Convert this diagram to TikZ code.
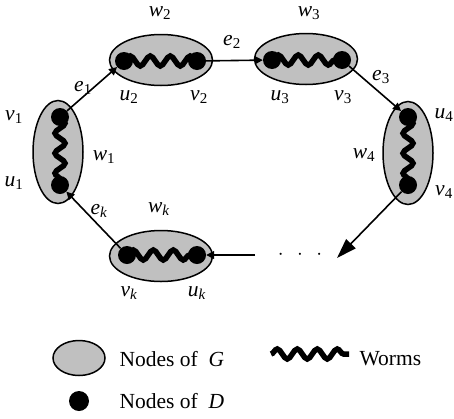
\documentclass[tikz,border=0pt]{standalone}
\usepackage{fontspec}
\setmainfont{Liberation Serif}
\usetikzlibrary{positioning}
\usetikzlibrary{shapes.geometric}
\usetikzlibrary{decorations.pathmorphing}
\usetikzlibrary{arrows.meta}

\newcommand{\lbl}[2]{\textit{#1}\textsubscript{#2}}

\begin{document}
\begin{tikzpicture}[
      x=1pt, y=-1pt, >={Triangle[length=8pt,width=8pt]},
      gnode/.style={ellipse, draw, line width=1.5pt, fill={rgb,255:red,192;green,192;blue,192}, inner sep=0pt},
      hnode/.style={gnode, minimum width=103pt, minimum height=51pt},
      vnode/.style={gnode, minimum width=50pt, minimum height=103pt},
      dnode/.style={circle, fill=black, minimum size=18pt, inner sep=0pt},
      worm/.style={line width=5.5pt, decorate, decoration={snake, segment length=20pt, amplitude=5pt}},
      edge/.style={line width=1.6pt},
      every node/.style={font=\fontsize{21.5}{24}\selectfont}]

      \useasboundingbox (0,0) rectangle (454,418);

      % nodes of G
      \node[vnode] (W1) at (58,152) {};
      \node[hnode] (W2) at (161,60) {};
      \node[hnode] (W3) at (306,59) {};
      \node[vnode] (W4) at (408,153) {};
      \node[hnode] (Wk) at (161,256) {};

      % nodes of D
      \node[dnode] (V1) at (60,117) {};
      \node[dnode] (U1) at (60,185) {};
      \node[dnode] (U2) at (124,61) {};
      \node[dnode] (V2) at (197,61) {};
      \node[dnode] (U3) at (272,60) {};
      \node[dnode] (V3) at (342,60) {};
      \node[dnode] (U4) at (408,117) {};
      \node[dnode] (V4) at (408,185) {};
      \node[dnode] (Vk) at (127,255) {};
      \node[dnode] (Uk) at (197,255) {};

      % worms
      \draw[worm] (V1.center) -- (U1.center);
      \draw[worm] (U2.center) -- (V2.center);
      \draw[worm] (U3.center) -- (V3.center);
      \draw[worm] (U4.center) -- (V4.center);
      \draw[worm] (Vk.center) -- (Uk.center);

      % edges
      \coordinate (Dend) at (337,258);
      \coordinate (Dstart) at (255,255);
      \draw[edge, ->] (V1) -- (U2);
      \draw[edge, ->] (V2) -- (U3);
      \draw[edge, ->] (V3) -- (U4);
      \draw[edge, -{Triangle[length=20pt,width=13pt]}] (V4) -- (Dend);
      \draw[edge, ->] (Dstart) -- (Uk);
      \draw[edge, ->] (Vk) -- (U1);
      \node (dots) at (300,255) {$\cdot\hspace{9pt}\cdot\hspace{9pt}\cdot$};

      % labels
      \node (l1) at (14,117) {\lbl{v}{1}};
      \node (l2) at (14,183) {\lbl{u}{1}};
      \node (l3) at (104,157) {\lbl{w}{1}};
      \node (l4) at (160,13) {\lbl{w}{2}};
      \node (l5) at (83,88) {\lbl{e}{1}};
      \node (l6) at (129,97) {\lbl{u}{2}};
      \node (l7) at (199,97) {\lbl{v}{2}};
      \node (l8) at (232,42) {\lbl{e}{2}};
      \node (l9) at (309,13) {\lbl{w}{3}};
      \node (l10) at (280,97) {\lbl{u}{3}};
      \node (l11) at (343,97) {\lbl{v}{3}};
      \node (l12) at (381,77) {\lbl{e}{3}};
      \node (l13) at (444,115) {\lbl{u}{4}};
      \node (l14) at (444,192) {\lbl{v}{4}};
      \node (l15) at (364,155) {\lbl{w}{4}};
      \node (l16) at (99,211) {\lbl{e}{\textit{k}}};
      \node (l17) at (159,209) {\lbl{w}{\textit{k}}};
      \node (l18) at (129,293) {\lbl{v}{\textit{k}}};
      \node (l19) at (197,293) {\lbl{u}{\textit{k}}};

      % legend
      \node[gnode, minimum width=52pt, minimum height=35pt] (legG) at (79,358) {};
      \node[anchor=west] (txtG) at (116,359) {Nodes of \ \textit{G}};
      \node[dnode, minimum size=20pt] (legD) at (79,401) {};
      \node[anchor=west] (txtD) at (116,401) {Nodes of \ \textit{D}};
      \coordinate (wormA) at (271,354);
      \coordinate (wormB) at (349,354);
      \draw[worm, decoration={segment length=20pt}] (wormA) -- (wormB);
      \node[anchor=west] (txtW) at (356,359) {Worms};
    \end{tikzpicture}
\end{document}
